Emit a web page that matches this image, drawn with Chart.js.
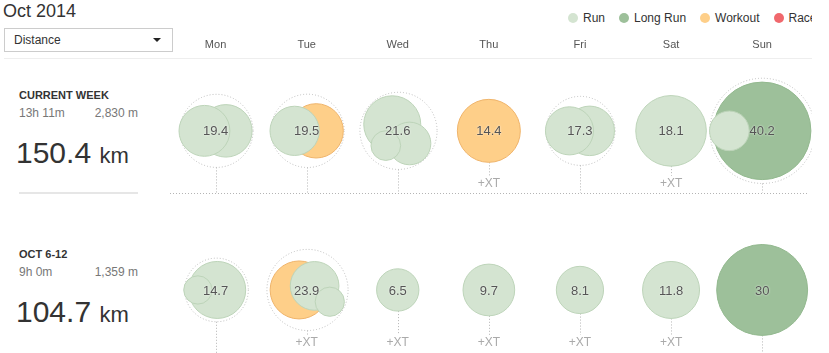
<!DOCTYPE html>
<html>
<head>
<meta charset="utf-8">
<script src="https://cdn.jsdelivr.net/npm/chart.js@4.4.0/dist/chart.umd.min.js"></script>
<style>
body { margin: 0; background: #fff; font-family: "Liberation Sans", Arial, sans-serif; color: #333; }
#page { position: relative; width: 812px; height: 353px; overflow: hidden; }
#title { position: absolute; left: 3px; top: 0; font-size: 18px; line-height: 22px; }
#select { position: absolute; left: 4px; top: 28px; width: 167px; height: 22px; border: 1px solid #ccc; font-size: 12px; line-height: 22px; }
#select span { position: absolute; left: 9px; }
#select i { position: absolute; right: 11px; top: 9px; border-left: 4px solid transparent; border-right: 4px solid transparent; border-top: 4px solid #222; }
#topline { position: absolute; left: 4px; top: 58px; width: 808px; height: 1px; background: #eee; }
#legend { position: absolute; left: 568px; top: 11px; display: flex; font-size: 12px; line-height: 14px; white-space: nowrap; }
#legend div { display: flex; align-items: center; margin-right: 14px; }
#legend b { display: inline-block; width: 10px; height: 10px; border-radius: 50%; margin-right: 5px; }
.week { position: absolute; left: 19px; width: 119px; }
.week .name { font-size: 11px; font-weight: bold; line-height: 13px; }
.week .sub { font-size: 12px; color: #777; line-height: 14px; margin-top: 4px; display: flex; justify-content: space-between; }
.week .big { font-size: 30px; line-height: 34px; margin-top: 16px; margin-left: -3px; }
.week .big small { font-size: 22px; }
.week .sep { position: absolute; left: 0; width: 119px; height: 2px; background: #e6e6e6; }
canvas { position: absolute; left: 170px; top: 0; }
</style>
</head>
<body>
<div id="page">
  <div id="title">Oct 2014</div>
  <div id="select"><span>Distance</span><i></i></div>
  <div id="legend"></div>
  <div id="topline"></div>
  <canvas id="cal" width="642" height="353"></canvas>
</div>
<script>
const days = ['Mon', 'Tue', 'Wed', 'Thu', 'Fri', 'Sat', 'Sun'];
const weeks = ['CURRENT WEEK', 'OCT 6-12'];
const weekTime = ['13h 11m', '9h 0m'];
const weekClimb = ['2,830 m', '1,359 m'];
const weekKm = [150.4, 104.7];

const legendNames = ['Run', 'Long Run', 'Workout', 'Race'];
const legendKeys = ['run', 'long', 'workout', 'race'];

// week, day, km, type  (largest first inside a day so small ones sit on top)
const activities = [
    [0, 0, 10.0, 'run'], [0, 0, 9.4, 'run'],
    [0, 1, 10.7, 'workout'], [0, 1, 8.8, 'run'],
    [0, 2, 11.8, 'run'], [0, 2, 6.6, 'run'], [0, 2, 3.2, 'run'],
    [0, 3, 14.4, 'workout'],
    [0, 4, 8.9, 'run'], [0, 4, 8.4, 'run'],
    [0, 5, 18.1, 'run'],
    [0, 6, 34.5, 'long'], [0, 6, 5.7, 'run'],
    [1, 0, 11.8, 'run'], [1, 0, 2.9, 'run'],
    [1, 1, 12.2, 'workout'], [1, 1, 8.6, 'run'], [1, 1, 3.1, 'run'],
    [1, 2, 6.5, 'run'],
    [1, 3, 9.7, 'run'],
    [1, 4, 8.1, 'run'],
    [1, 5, 11.8, 'run'],
    [1, 6, 30, 'long']
];
// where each activity sits inside its day ring: angle (deg), reach (0 = centre, 1 = touching ring)
const ringSpot = [
    [0, 1], [180, 1],
    [0, 1], [180, 1],
    [230, 0.85], [47, 1], [129, 0.8],
    [0, 0],
    [0, 1], [180, 1],
    [0, 0],
    [0, 0], [180, 1],
    [0, 0.5], [180, 1],
    [180, 0.65], [333, 0.55], [27, 1],
    [0, 0], [0, 0], [0, 0], [0, 0], [0, 0]
];
// days with cross training
const crossTraining = [[3, 5], [1, 2, 3, 4, 5]];

const fill = { run: '#d4e4d1', long: '#9dc09a', workout: '#fecf89', race: '#f0686d' };
const edge = { run: '#bdd4b9', long: '#93b98f', workout: '#efb46b', race: '#e05358' };

const K = 8.3;
const rad = km => K * Math.sqrt(km);

const groups = weeks.map(() => days.map(() => ({ total: 0, count: 0 })));
activities.forEach(([w, d, km]) => { groups[w][d].total += km; groups[w][d].count++; });

// legend
const legend = document.getElementById('legend');
legendNames.forEach((n, i) => {
    const it = document.createElement('div');
    it.innerHTML = '<b style="background:' + fill[legendKeys[i]] + '"></b>' + n;
    legend.appendChild(it);
});

const ringPlugin = {
    id: 'rings',
    afterDatasetsUpdate(chart) {
        const meta = chart.getDatasetMeta(0);
        meta.data.forEach((el, i) => {
            const [w, d, km] = activities[i];
            const g = groups[w][d];
            if (g.count < 2) return;
            const [ang, reach] = ringSpot[i];
            const dist = reach * (rad(g.total) - rad(km));
            el.x += Math.cos(ang * Math.PI / 180) * dist;
            el.y += Math.sin(ang * Math.PI / 180) * dist;
        });
    },
    beforeDatasetsDraw(chart) {
        const ctx = chart.ctx, xs = chart.scales.x, ys = chart.scales.y;
        ctx.save();
        ctx.lineWidth = 1;
        ctx.setLineDash([1, 2]);
        weeks.forEach((wk, w) => {
            const cy = ys.getPixelForValue(w);
            const bottom = w < weeks.length - 1 ? cy + 62 : chart.chartArea.bottom;
            days.forEach((dn, d) => {
                const g = groups[w][d];
                if (!g.count) return;
                const cx = Math.round(xs.getPixelForValue(d)) + 0.5;
                const R = rad(g.total);
                if (g.count > 1) {
                    ctx.strokeStyle = '#bcbcbc';
                    ctx.beginPath();
                    ctx.arc(cx, cy, R, 0, Math.PI * 2);
                    ctx.stroke();
                }
                const end = crossTraining[w].includes(d) ? cy + 45 : bottom;
                ctx.strokeStyle = '#b4b4b4';
                ctx.beginPath();
                ctx.moveTo(cx, cy + R);
                ctx.lineTo(cx, end);
                ctx.stroke();
            });
            if (w < weeks.length - 1) {
                ctx.strokeStyle = '#b4b4b4';
                ctx.beginPath();
                ctx.moveTo(chart.chartArea.left, Math.round(bottom) + 0.5);
                ctx.lineTo(chart.chartArea.right - 4, Math.round(bottom) + 0.5);
                ctx.stroke();
            }
        });
        ctx.restore();
    },
    afterDatasetsDraw(chart) {
        const ctx = chart.ctx, xs = chart.scales.x, ys = chart.scales.y;
        ctx.save();
        ctx.textAlign = 'center';
        ctx.textBaseline = 'middle';
        weeks.forEach((wk, w) => {
            const cy = ys.getPixelForValue(w);
            days.forEach((dn, d) => {
                const g = groups[w][d];
                const cx = xs.getPixelForValue(d);
                if (g.count) {
                    ctx.font = '13px "Liberation Sans", Arial';
                    ctx.fillStyle = '#555';
                    ctx.shadowColor = 'rgba(255,255,255,0.9)';
                    ctx.shadowBlur = 2;
                    ctx.fillText(String(Number(g.total.toFixed(1))), cx, cy + 1);
                    ctx.shadowBlur = 0;
                }
                if (crossTraining[w].includes(d)) {
                    ctx.font = '12px "Liberation Sans", Arial';
                    ctx.fillStyle = '#aaa';
                    ctx.fillText('+XT', cx, cy + 53);
                }
            });
        });
        ctx.restore();
    }
};

const chart = new Chart(document.getElementById('cal'), {
    type: 'bubble',
    data: {
        datasets: [{
            data: activities.map(([w, d, km]) => ({ x: d, y: w, r: rad(km) })),
            backgroundColor: activities.map(a => fill[a[3]]),
            borderColor: activities.map(a => edge[a[3]]),
            borderWidth: 1,
            clip: false
        }]
    },
    options: {
        responsive: false,
        devicePixelRatio: 1,
        animation: false,
        events: [],
        layout: { padding: { top: 35 }, autoPadding: false },
        plugins: { legend: { display: false }, tooltip: { enabled: false } },
        scales: {
            x: {
                type: 'linear', position: 'top', min: -0.5, max: -0.5 + 642 / 91.1,
                afterBuildTicks: s => { s.ticks = days.map((n, i) => ({ value: i })); },
                grid: { display: false }, border: { display: false },
                ticks: {
                    callback: v => days[v], color: '#555', maxRotation: 0, autoSkip: false,
                    font: { family: '"Liberation Sans", Arial', size: 11 }
                }
            },
            y: { display: false, reverse: true, min: -0.4315, max: 1.3963 }
        }
    },
    plugins: [ringPlugin]
});

// week summaries on the left, lined up with the rows
const page = document.getElementById('page');
weeks.forEach((wk, w) => {
    const cy = chart.scales.y.getPixelForValue(w);
    const box = document.createElement('div');
    box.className = 'week';
    box.style.top = (cy - 42) + 'px';
    box.innerHTML = '<div class="name">' + wk + '</div>' +
        '<div class="sub"><span>' + weekTime[w] + '</span><span>' + weekClimb[w] + '</span></div>' +
        '<div class="big">' + weekKm[w] + ' <small>km</small></div>' +
        (w < weeks.length - 1 ? '<div class="sep" style="top:103px"></div>' : '');
    page.appendChild(box);
});
</script>
</body>
</html>
